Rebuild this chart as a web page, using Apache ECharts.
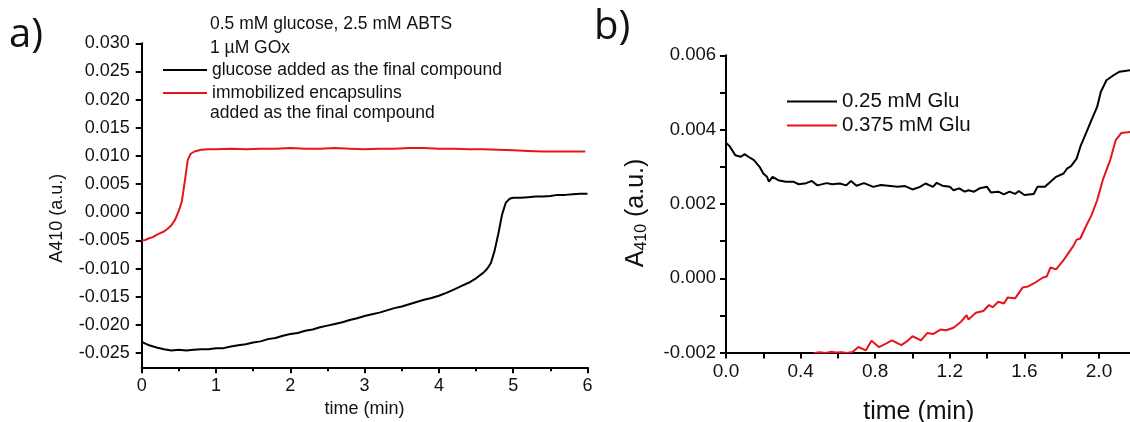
<!DOCTYPE html>
<html>
<head>
<meta charset="utf-8">
<script src="https://cdn.jsdelivr.net/npm/echarts@6/dist/echarts.min.js"></script>
<style>
html,body{margin:0;padding:0;background:#fff;overflow:hidden;}
#chart{width:1130px;height:422px;}
</style>
</head>
<body>
<div id="chart"></div>
<script>
// ---------- Panel a data ----------
var aBlackName = 'glucose added as the final compound';
var aRedName = 'immobilized encapsulins';
var aBlackT = [0, 0.1, 0.2, 0.3, 0.4, 0.5, 0.6, 0.7, 0.8, 0.9, 1.0, 1.1, 1.2, 1.3, 1.4, 1.5, 1.6, 1.7, 1.8, 1.9, 2.0, 2.1, 2.2, 2.3, 2.4, 2.5, 2.6, 2.7, 2.8, 2.9, 3.0, 3.1, 3.2, 3.3, 3.4, 3.5, 3.6, 3.7, 3.8, 3.9, 4.0, 4.1, 4.2, 4.3, 4.4, 4.5, 4.6, 4.65, 4.7, 4.75, 4.8, 4.85, 4.9, 4.95, 5.0, 5.1, 5.2, 5.3, 5.4, 5.5, 5.6, 5.7, 5.8, 5.9, 6.0];
var aBlackV = [-0.0230, -0.0236, -0.0240, -0.0243, -0.0245, -0.0244, -0.0245, -0.0244, -0.0243, -0.0243, -0.0241, -0.0241, -0.0238, -0.0236, -0.0234, -0.0231, -0.0229, -0.0225, -0.0223, -0.0219, -0.0216, -0.0214, -0.0210, -0.0208, -0.0204, -0.0201, -0.0198, -0.0195, -0.0191, -0.0188, -0.0184, -0.0181, -0.0178, -0.0174, -0.0170, -0.0167, -0.0163, -0.0159, -0.0155, -0.0152, -0.0148, -0.0143, -0.0137, -0.0131, -0.0125, -0.0117, -0.0107, -0.0100, -0.0090, -0.0068, -0.0038, -0.0004, 0.0017, 0.0024, 0.0026, 0.0026, 0.0027, 0.0028, 0.0028, 0.0029, 0.0031, 0.0031, 0.0032, 0.0033, 0.0033];
var aRedT = [0, 0.05, 0.1, 0.15, 0.2, 0.25, 0.3, 0.35, 0.4, 0.45, 0.5, 0.54, 0.58, 0.62, 0.66, 0.71, 0.8, 0.9, 1.0, 1.2, 1.4, 1.6, 1.8, 2.0, 2.2, 2.4, 2.6, 2.8, 3.0, 3.2, 3.4, 3.6, 3.8, 4.0, 4.2, 4.4, 4.6, 4.8, 5.0, 5.2, 5.4, 5.6, 5.8, 5.97];
var aRedV = [-0.0050, -0.0049, -0.0046, -0.0044, -0.0040, -0.0037, -0.0034, -0.0029, -0.0023, -0.0013, 0.0003, 0.0019, 0.0055, 0.0093, 0.0104, 0.0108, 0.0111, 0.0112, 0.0112, 0.0113, 0.0112, 0.0113, 0.0113, 0.0114, 0.0113, 0.0113, 0.0114, 0.0113, 0.0112, 0.0113, 0.0113, 0.0114, 0.0114, 0.0113, 0.0113, 0.0112, 0.0112, 0.0111, 0.0110, 0.0109, 0.0108, 0.0108, 0.0108, 0.0108];
var aYTicks = [-0.025, -0.020, -0.015, -0.010, -0.005, 0.000, 0.005, 0.010, 0.015, 0.020, 0.025, 0.030];
var aHeader1 = '0.5 mM glucose, 2.5 mM ABTS';
var aHeader2 = '1 \u00b5M GOx';
var aRedLine2 = 'added as the final compound';

// ---------- Panel b data ----------
var bBlackName = '0.25 mM Glu';
var bRedName = '0.375 mM Glu';
var bBlackT = [0, 0.02, 0.05, 0.08, 0.1, 0.12, 0.15, 0.18, 0.2, 0.22, 0.23, 0.25, 0.28, 0.32, 0.36, 0.39, 0.43, 0.46, 0.49, 0.54, 0.57, 0.61, 0.645, 0.67, 0.7, 0.74, 0.79, 0.83, 0.87, 0.92, 0.96, 1.0, 1.04, 1.07, 1.11, 1.13, 1.16, 1.2, 1.22, 1.25, 1.28, 1.3, 1.33, 1.36, 1.4, 1.42, 1.46, 1.49, 1.52, 1.55, 1.57, 1.6, 1.65, 1.67, 1.71, 1.74, 1.77, 1.81, 1.83, 1.85, 1.88, 1.9, 1.93, 1.96, 1.99, 2.01, 2.04, 2.08, 2.11, 2.17, 2.2];
var bBlackV = [0.00365, 0.00355, 0.00331, 0.00327, 0.00334, 0.00327, 0.00318, 0.00300, 0.00282, 0.00273, 0.00260, 0.00273, 0.00264, 0.00260, 0.00260, 0.00253, 0.00256, 0.00262, 0.00250, 0.00256, 0.00253, 0.00255, 0.00250, 0.00262, 0.00249, 0.00256, 0.00246, 0.00251, 0.00249, 0.00246, 0.00248, 0.00239, 0.00246, 0.00255, 0.00246, 0.00257, 0.00249, 0.00246, 0.00237, 0.00242, 0.00233, 0.00237, 0.00233, 0.00242, 0.00246, 0.00231, 0.00233, 0.00226, 0.00233, 0.00227, 0.00235, 0.00224, 0.00227, 0.00246, 0.00246, 0.00260, 0.00273, 0.00282, 0.00296, 0.00302, 0.00322, 0.00354, 0.00390, 0.00426, 0.00461, 0.00502, 0.00533, 0.00547, 0.00556, 0.00560, 0.00562];
var bRedT = [0.47, 0.5, 0.535, 0.56, 0.59, 0.62, 0.65, 0.68, 0.71, 0.75, 0.78, 0.82, 0.86, 0.89, 0.94, 0.97, 1.0, 1.045, 1.08, 1.11, 1.15, 1.18, 1.22, 1.26, 1.29, 1.3, 1.34, 1.38, 1.41, 1.43, 1.46, 1.49, 1.51, 1.55, 1.59, 1.62, 1.65, 1.7, 1.72, 1.74, 1.77, 1.81, 1.86, 1.88, 1.9, 1.93, 1.96, 1.99, 2.02, 2.06, 2.09, 2.12, 2.17, 2.2];
var bRedV = [-0.00202, -0.00199, -0.00201, -0.00198, -0.00200, -0.00199, -0.00201, -0.00198, -0.00185, -0.00194, -0.00168, -0.00185, -0.00175, -0.00167, -0.00180, -0.00170, -0.00156, -0.00167, -0.00147, -0.00150, -0.00138, -0.00140, -0.00133, -0.00117, -0.00099, -0.00111, -0.00093, -0.00088, -0.00072, -0.00078, -0.00063, -0.00068, -0.00052, -0.00054, -0.00025, -0.00022, -0.00014, 0.00002, 0.00005, 0.00029, 0.00024, 0.00049, 0.00085, 0.00104, 0.00107, 0.00140, 0.00170, 0.00210, 0.00264, 0.00318, 0.00372, 0.00391, 0.00394, 0.00395];

function zip(t, v) { return t.map(function (x, i) { return [x, v[i]]; }); }

var FONT = "'Liberation Sans', Arial, sans-serif";
var chart = echarts.init(document.getElementById('chart'), null, {renderer: 'canvas'});

function axisCommon(fs) {
  return {
    axisLine: {show: true, onZero: false, lineStyle: {color: '#000', width: 2}},
    axisTick: {show: true, inside: false, length: 6, lineStyle: {color: '#000', width: 2}},
    minorTick: {show: false},
    splitLine: {show: false},
    axisLabel: {color: '#111', fontSize: fs, fontFamily: FONT},
    nameTextStyle: {color: '#111', fontFamily: FONT}
  };
}

var axA_x = Object.assign(axisCommon(18), {
  type: 'value', gridIndex: 0, min: 0, max: 6, interval: 1,
  name: 'time (min)', nameLocation: 'middle', nameGap: 33
});
axA_x.axisLabel.margin = 10;
axA_x.minorTick = {show: true, splitNumber: 2, length: 4, lineStyle: {color: '#000', width: 2}};
axA_x.nameTextStyle.fontSize = 18;

var axA_y = Object.assign(axisCommon(18), {
  type: 'value', gridIndex: 0, min: -0.0275, max: 0.030,
  name: 'A410 (a.u.)', nameLocation: 'middle', nameGap: 76, nameRotate: 90
});
axA_y.axisLabel.margin = 12;
axA_y.axisLabel.customValues = aYTicks;
axA_y.axisLabel.formatter = function (v) { return v.toFixed(3); };
axA_y.axisTick.customValues = aYTicks;
axA_y.nameTextStyle.fontSize = 18;
axA_y.nameTextStyle.padding = [0, 26, 0, 0];

var axB_x = Object.assign(axisCommon(19), {
  type: 'value', gridIndex: 1, min: 0, max: 2.4, interval: 0.4,
  name: 'time (min)', nameLocation: 'middle', nameGap: 47
});
axB_x.axisLabel.margin = 10;
axB_x.axisLabel.formatter = function (v) { return v.toFixed(1); };
axB_x.minorTick = {show: true, splitNumber: 2, length: 6, lineStyle: {color: '#000', width: 2}};
axB_x.nameTextStyle.fontSize = 25;
axB_x.nameTextStyle.padding = [0, 62, 0, 0];

var axB_y = Object.assign(axisCommon(18.5), {
  type: 'value', gridIndex: 1, min: -0.002, max: 0.006, interval: 0.002,
  name: '{m|A}{s|410}{m| (a.u.)}', nameLocation: 'middle', nameGap: 76, nameRotate: 90
});
axB_y.axisLabel.margin = 10;
axB_y.axisLabel.formatter = function (v) { return v.toFixed(3); };
axB_y.minorTick = {show: true, splitNumber: 2, length: 6, lineStyle: {color: '#000', width: 2}};
axB_y.nameTextStyle.padding = [0, 18, 0, 0];
axB_y.nameTextStyle.rich = {
  m: {fontSize: 25, fontFamily: FONT, color: '#111'},
  s: {fontSize: 16, fontFamily: FONT, color: '#111', verticalAlign: 'bottom', padding: [12, 0, 0, 0]}
};

var option = {
  animation: false,
  backgroundColor: '#fff',
  grid: [
    {left: 141.7, top: 43.3, width: 445.8, height: 324, outerBoundsMode: 'none', containLabel: false},
    {left: 726, top: 55.3, width: 447.6, height: 297.3, outerBoundsMode: 'none', containLabel: false}
  ],
  xAxis: [axA_x, axB_x],
  yAxis: [axA_y, axB_y],
  legend: [
    {
      orient: 'vertical', left: 158, top: 54, itemWidth: 44, itemHeight: 2, itemGap: 1,
      icon: 'rect', data: [aBlackName, aRedName],
      textStyle: {fontSize: 17.5, fontFamily: FONT, color: '#111', lineHeight: 22}
    },
    {
      orient: 'vertical', left: 782, top: 85, itemWidth: 50, itemHeight: 2, itemGap: 1,
      icon: 'rect', data: [bBlackName, bRedName],
      textStyle: {fontSize: 20.5, fontFamily: FONT, color: '#111', lineHeight: 23}
    }
  ],
  graphic: [
    {type: 'text', left: 9, top: 16, style: {text: 'a)', font: "40px 'Open Sans', sans-serif", fill: '#111'}},
    {type: 'text', left: 594, top: 8, style: {text: 'b)', font: "40px 'Open Sans', sans-serif", fill: '#111'}},
    {type: 'text', left: 210, top: 15, style: {text: aHeader1, font: "17.5px 'Liberation Sans', Arial, sans-serif", fill: '#111'}},
    {type: 'text', left: 210, top: 39, style: {text: aHeader2, font: "17.5px 'Liberation Sans', Arial, sans-serif", fill: '#111'}},
    {type: 'text', left: 210, top: 104, style: {text: aRedLine2, font: "17.5px 'Liberation Sans', Arial, sans-serif", fill: '#111'}}
  ],
  series: [
    {name: aBlackName, type: 'line', xAxisIndex: 0, yAxisIndex: 0, data: zip(aBlackT, aBlackV),
      showSymbol: false, lineStyle: {color: '#000', width: 2}, itemStyle: {color: '#000'}},
    {name: aRedName, type: 'line', xAxisIndex: 0, yAxisIndex: 0, data: zip(aRedT, aRedV),
      showSymbol: false, lineStyle: {color: '#e8141b', width: 2}, itemStyle: {color: '#e8141b'}},
    {name: bBlackName, type: 'line', xAxisIndex: 1, yAxisIndex: 1, data: zip(bBlackT, bBlackV),
      showSymbol: false, lineStyle: {color: '#000', width: 2}, itemStyle: {color: '#000'}},
    {name: bRedName, type: 'line', xAxisIndex: 1, yAxisIndex: 1, data: zip(bRedT, bRedV),
      showSymbol: false, lineStyle: {color: '#e8141b', width: 2}, itemStyle: {color: '#e8141b'}}
  ]
};
chart.setOption(option);
</script>
</body>
</html>
